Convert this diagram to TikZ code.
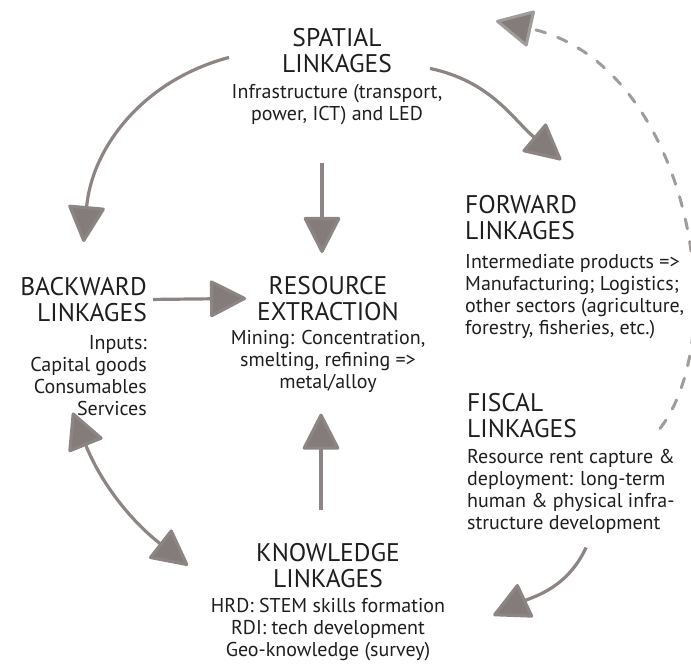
\documentclass[tikz,border=0pt]{standalone}
\usepackage{fontspec}
\setmainfont{PT Sans}
\usepackage{tikz}
\usetikzlibrary{calc}
\usetikzlibrary{positioning}
\usetikzlibrary{arrows.meta}
\definecolor{inkgrey}{HTML}{8C8583}
\definecolor{headgrey}{HTML}{837C7A}
\definecolor{dashgrey}{HTML}{A09C9A}
\definecolor{textblack}{HTML}{1E1E1E}

\begin{document}
\begin{tikzpicture}[x=1pt,y=-1pt,>={Triangle[length=38pt,width=38pt,round,fill=headgrey]}]
\tikzstyle{title}=[inner sep=0pt,align=center,text=textblack,font=\fontsize{25.5}{26}\selectfont]
\tikzstyle{body}=[inner sep=0pt,align=center,text=textblack,font=\fontsize{20}{22}\selectfont]
\tikzstyle{link}=[draw=inkgrey,line width=3.2pt,line join=round,->]
\tikzstyle{dashlink}=[draw=dashgrey,line width=3pt,line cap=round,dash pattern=on 10pt off 13pt,->]
\useasboundingbox (0,0) rectangle (691,664);

\node[title,anchor=north] at(337, 28) (spt) {SPATIAL\\LINKAGES};
\node[body,below=11pt of spt] (sptb) {Infrastructure (transport,\\power, ICT) and LED};

\node[title,anchor=north] at(328, 276) (res) {RESOURCE\\EXTRACTION};
\node[body,below=9pt of res] (resb) {Mining: Concentration,\\smelting, refining =>\\metal/alloy};

\node[title,anchor=north east,align=right] at(147, 277) (bwd) {BACKWARD\\LINKAGES};
\node[body,below=13pt of bwd.south east,anchor=north east,align=right] (bwdb) {Inputs:\\Capital goods\\Consumables\\Services};

\node[title,anchor=north west,align=left] at(465, 195) (fwd) {FORWARD\\LINKAGES};
\node[body,below=14pt of fwd.south west,anchor=north west,align=left] (fwdb) {Intermediate products =>\\Manufacturing; Logistics;\\other sectors (agriculture,\\forestry, fisheries, etc.)};

\node[title,anchor=north west,align=left] at(467, 393) (fsc) {FISCAL\\LINKAGES};
\node[body,below=11pt of fsc.south west,anchor=north west,align=left] (fscb) {Resource rent capture \&\\deployment: long-term\\human \& physical infra-\\structure development};

\node[title,anchor=north] at(328, 543) (knw) {KNOWLEDGE\\LINKAGES};
\node[body,below=10pt of knw] (knwb) {HRD: STEM skills formation\\RDI: tech development\\Geo-knowledge (survey)};

\draw[link] ([shift={(-53,7)}]spt.west) to[out=195,in=85] ([shift={(0,-35)}]bwd.north);
\draw[link] ([shift={(-15,38)}]sptb.south) -- ([shift={(-6,-23)}]res.north);
\draw[link] ([shift={(38,18)}]spt.east) to[out=-12,in=140] ([shift={(40,-35)}]fwd.north);
\draw[link] ([xshift=6pt]bwd.east) -- ([xshift=-11pt]res.west);
\draw[link] ([shift={(-7,-33)}]knw.north) -- ([shift={(-7,21)}]resb.south);
\draw[link,<->] ([shift={(-16,-3)}]bwdb.south) to[out=-68,in=142] ([shift={(-68,0)}]knw.west);
\draw[link] ([shift={(15,14)}]fscb.south) to[out=245,in=25] ([shift={(48,-14)}]knwb.east);
\draw[dashlink] ([shift={(83,13)}]fsc.east) .. controls +(75,-98) and +(190,42) .. ([shift={(104,-7)}]spt.north east);
\end{tikzpicture}
\end{document}
